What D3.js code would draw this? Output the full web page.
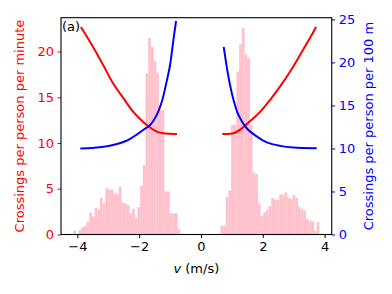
<!DOCTYPE html>
<html>
<head>
<meta charset="utf-8">
<script src="https://cdn.jsdelivr.net/npm/d3@7"></script>
<style>
  body { margin: 0; background: #fff; }
  svg { display: block; font-family: "DejaVu Sans", sans-serif; }
</style>
</head>
<body>
<script>
// Histogram of walking speeds (bins run evenly from histLo to histHi)
const histLo = -4.13;
const histHi = 3.83;
const histCounts = [
  0.45, 0, 0.5, 0.8, 0.95, 1.4, 2.4, 2.0, 2.9, 2.7,
  4.0, 3.4, 5.1, 4.9, 4.9, 4.5, 4.4, 5.2, 3.5, 3.4,
  3.2, 2.3, 2.8, 1.8, 3.0, 5.3, 7.6, 17.6, 21.5, 20.5,
  19.0, 17.7, 13.6, 13.6, 4.7, 4.7, 2.3, 2.3, 2.3, 0.6,
  0, 0, 0, 0, 0, 0, 0, 0, 0, 0, 0, 0, 0, 0, 0,
  0.95, 0.95, 4.1, 4.8, 12.0, 12.0, 17.8, 20.8, 22.6, 19.7,
  19.3, 12.0, 6.8, 6.6, 3.4, 2.0, 2.4, 2.7, 3.1, 4.0,
  3.8, 3.8, 4.4, 4.3, 4.6, 4.0, 3.9, 4.3, 4.0, 3.0,
  2.8, 2.6, 1.7, 1.5, 1.45, 0.4, 1.4
];

// Crossings per person per minute (left axis)
const minuteNegV = [-3.87, -3.49, -3.16, -2.84, -2.51, -2.19, -1.87, -1.65, -1.43, -1.22, -0.81];
const minuteNeg = [22.6, 20.5, 18.5, 16.5, 14.9, 13.4, 12.3, 11.7, 11.25, 11.07, 11.0];
const minutePosV = [0.72, 1.05, 1.32, 1.59, 1.91, 2.23, 2.56, 2.88, 3.2, 3.53, 3.71];
const minutePos = [11.0, 11.07, 11.6, 12.4, 13.4, 14.7, 16.2, 17.8, 19.6, 21.5, 22.6];

// Crossings per person per 100 m (right axis)
const meterNegV = [-3.87, -3.27, -2.84, -2.41, -2.08, -1.87, -1.65, -1.43, -1.27, -1.11, -1.0, -0.9, -0.81];
const meterNeg = [10.0, 10.14, 10.4, 10.9, 11.6, 12.15, 12.7, 13.9, 15.4, 17.8, 19.7, 22.4, 24.7];
const meterPosV = [0.74, 0.88, 1.04, 1.21, 1.48, 1.8, 2.13, 2.56, 2.99, 3.71];
const meterPos = [21.7, 18.5, 15.8, 13.9, 12.35, 11.4, 10.7, 10.3, 10.1, 10.03];

const xTicks = [-4, -2, 0, 2, 4];
const leftTicks = [0, 5, 10, 15, 20];
const rightTicks = [0, 5, 10, 15, 20, 25];

// Set the margins
let svgWidth = 392;
let svgHeight = 294;

let margin = { top: 17.7, right: 60.3, bottom: 59.5, left: 61 };
let width = svgWidth - margin.left - margin.right;
let height = svgHeight - margin.top - margin.bottom;

let svg = d3.select("body")
    .append("svg")
    .attr("width", svgWidth)
    .attr("height", svgHeight);

let chartGroup = svg.append("g")
    .attr("transform", `translate(${margin.left}, ${margin.top})`);

chartGroup.append("clipPath")
    .attr("id", "plotClip")
    .append("rect")
    .attr("width", width)
    .attr("height", height);

// scales (5% padding either side of the data range, like matplotlib)
let pad = (histHi - histLo) * 0.05;
let xScale = d3.scaleLinear()
    .domain([histLo - pad, histHi + pad])
    .range([0, width]);

let yLeft = d3.scaleLinear()
    .domain([0, 23.7])
    .range([height, 0]);

let yRight = d3.scaleLinear()
    .domain([0, 25.2])
    .range([height, 0]);

let binW = (histHi - histLo) / histCounts.length;
let bins = histCounts.map((c, i) => ({ x0: histLo + i * binW, x1: histLo + (i + 1) * binW, c: c }));

let plot = chartGroup.append("g").attr("clip-path", "url(#plotClip)");

// histogram bars
plot.append("g")
    .selectAll("rect")
    .data(bins.filter(d => d.c > 0))
    .join("rect")
    .attr("x", d => xScale(d.x0))
    .attr("width", d => xScale(d.x1) - xScale(d.x0))
    .attr("y", d => yLeft(d.c))
    .attr("height", d => yLeft(0) - yLeft(d.c))
    .attr("fill", "pink");

function drawLine(vs, vals, yScale, color) {
    let pts = vs.map((v, i) => [v, vals[i]]);
    let line = d3.line()
        .x(d => xScale(d[0]))
        .y(d => yScale(d[1]))
        .curve(d3.curveCatmullRom.alpha(0.5));
    plot.append("path")
        .datum(pts)
        .attr("d", line)
        .attr("fill", "none")
        .attr("stroke", color)
        .attr("stroke-width", 2)
        .attr("stroke-linejoin", "round")
        .attr("stroke-linecap", "square");
}

drawLine(minuteNegV, minuteNeg, yLeft, "red");
drawLine(minutePosV, minutePos, yLeft, "red");
drawLine(meterNegV, meterNeg, yRight, "blue");
drawLine(meterPosV, meterPos, yRight, "blue");

// axes
let bottomAxis = d3.axisBottom(xScale).tickValues(xTicks).tickSize(3.5).tickPadding(3.5);
let leftAxis = d3.axisLeft(yLeft).tickValues(leftTicks).tickSize(3.5).tickPadding(3.5);
let rightAxis = d3.axisRight(yRight).tickValues(rightTicks).tickSize(3.5).tickPadding(3.5);

let xAxis = chartGroup.append("g")
    .attr("transform", `translate(0, ${height})`)
    .call(bottomAxis);
xAxis.selectAll("line").attr("stroke", "black").attr("stroke-width", 1);
xAxis.selectAll("text").attr("fill", "black");

let yAxisL = chartGroup.append("g").call(leftAxis);
yAxisL.selectAll("line").attr("stroke", "red").attr("stroke-width", 1);
yAxisL.selectAll("text").attr("fill", "red");

let yAxisR = chartGroup.append("g")
    .attr("transform", `translate(${width}, 0)`)
    .call(rightAxis);
yAxisR.selectAll("line").attr("stroke", "blue").attr("stroke-width", 1);
yAxisR.selectAll("text").attr("fill", "blue");

chartGroup.selectAll(".domain").remove();
chartGroup.selectAll(".tick text").attr("font-size", 13).attr("font-family", "DejaVu Sans");

// frame
chartGroup.append("rect")
    .attr("width", width)
    .attr("height", height)
    .attr("fill", "none")
    .attr("stroke", "black")
    .attr("stroke-width", 1.1);

// labels
chartGroup.append("text")
    .attr("x", 1)
    .attr("y", 13.5)
    .attr("font-size", 13)
    .text("(a)");

svg.append("text")
    .attr("x", margin.left + width / 2)
    .attr("y", 273)
    .attr("text-anchor", "middle")
    .attr("font-size", 13)
    .html('<tspan font-style="italic">v</tspan> (m/s)');

svg.append("text")
    .attr("transform", `translate(24, ${margin.top + height / 2}) rotate(-90)`)
    .attr("text-anchor", "middle")
    .attr("font-size", 13)
    .attr("fill", "red")
    .text("Crossings per person per minute");

svg.append("text")
    .attr("transform", `translate(373, ${margin.top + height / 2}) rotate(-90)`)
    .attr("text-anchor", "middle")
    .attr("font-size", 13)
    .attr("fill", "blue")
    .text("Crossings per person per 100 m");
</script>
</body>
</html>
